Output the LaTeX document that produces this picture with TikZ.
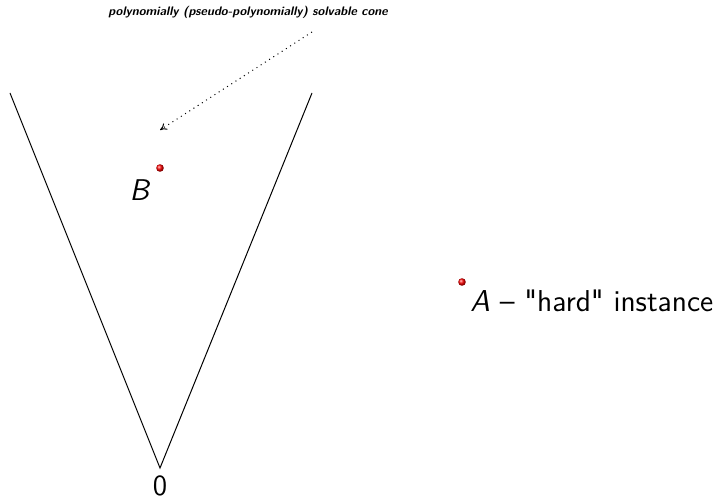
\documentclass[tikz,border=0pt]{standalone}
\usepackage{fontspec}
\usepackage{tikz}
\usetikzlibrary{arrows.meta}
\renewcommand{\familydefault}{\sfdefault}
\tikzset{rim/.style={line width=.5pt},pnt/.style={circle,inner sep=0pt,minimum size=3.8pt,ball color=red},hint/.style={dotted,line width=.5pt,-{To[length=1.2mm,width=1.3mm]}}}

\begin{document}
\begin{tikzpicture}[x=.5pt,y=-.5pt]
\path[use as bounding box] (0,0) rectangle (718,502);
\node[anchor=center,inner sep=1pt,font=\fontsize{6.2}{7}\selectfont\bfseries\itshape] (note) at (248,12) {polynomially (pseudo-polynomially) solvable cone};
\coordinate (origin) at (160,468);
\coordinate (leftend) at (10,93);
\coordinate (rightend) at (312,93);
\draw[rim] (leftend) -- (origin) -- (rightend);
\node[anchor=north,inner sep=1pt,font=\fontsize{14.6}{16}\selectfont] (zero) at (160,473) {0};
\coordinate (tail) at (312,32);
\coordinate (head) at (160,130);
\draw[hint] (tail) -- (head);
\node[pnt] (ptB) at (160,168) {};
\node[anchor=center,inner sep=1pt,font=\fontsize{15}{16}\selectfont] (labB) at (140,190) {\textit{B}};
\node[pnt] (ptA) at (462,282) {};
\node[anchor=base west,inner sep=1pt,font=\fontsize{15.1}{16}\selectfont] (labA) at (468,312) {\textit{A} – \textquotedbl hard\textquotedbl{} instance};
\end{tikzpicture}
\end{document}
